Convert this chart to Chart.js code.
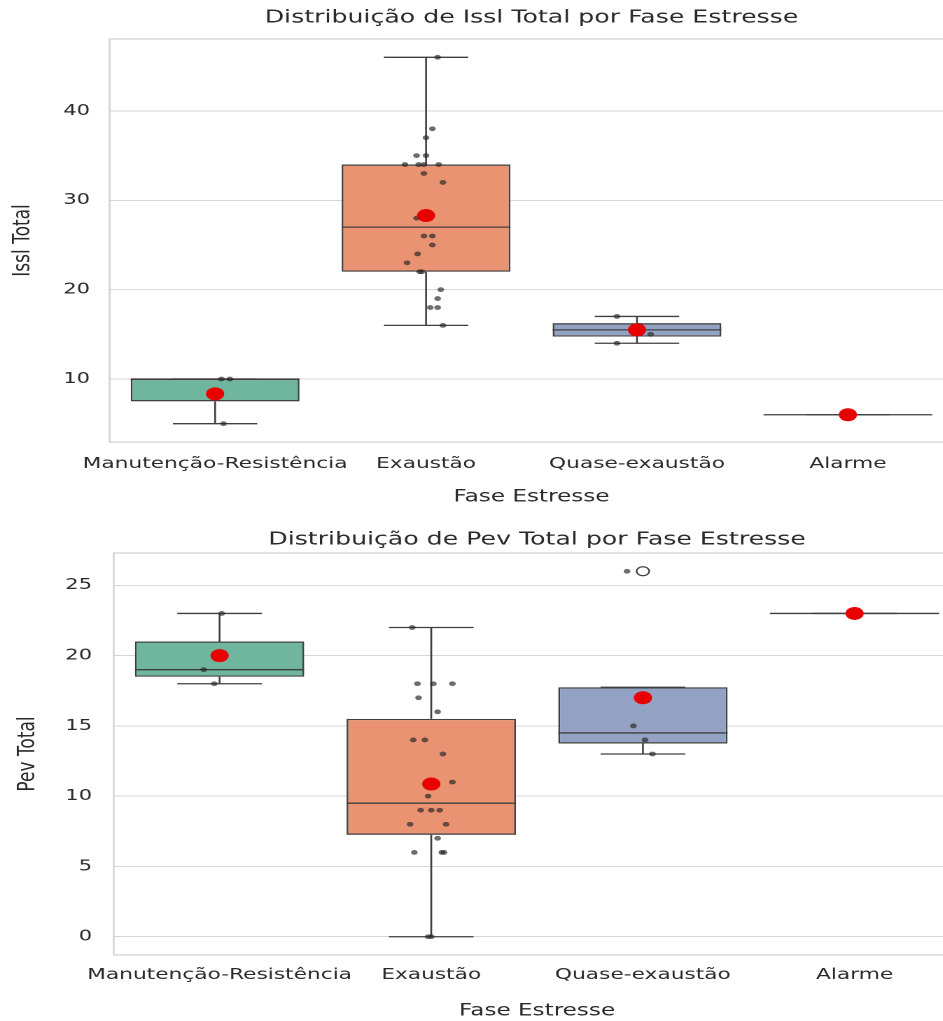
<!DOCTYPE html>
<html>
<head>
<meta charset="utf-8">
<script src="https://cdn.jsdelivr.net/npm/chart.js@4.4.1/dist/chart.umd.min.js"></script>
<style>
  html, body { margin: 0; padding: 0; background: #fff; overflow: hidden; width: 943px; height: 1021px; }
  #stage { position: relative; width: 943px; height: 1021px; overflow: hidden; }
  .panel { position: absolute; left: 0; transform-origin: 0 0; transform: scaleX(1.4); }
  #p1 { top: 0; }
  #p2 { top: 520px; }
</style>
</head>
<body>
<div id="stage">
  <div class="panel" id="p1"><canvas id="c1" width="681" height="520"></canvas></div>
  <div class="panel" id="p2"><canvas id="c2" width="686" height="501"></canvas></div>
</div>
<script>
// Categories (stress phases)
const fases = ['Manutenção-Resistência', 'Exaustão', 'Quase-exaustão', 'Alarme'];

// Issl Total per phase
const isslManutencao = [5, 10, 10];
const isslExaustao = [46, 38, 37, 35, 35, 34, 34, 34, 34, 33, 32, 28, 26, 26, 25, 24, 23, 22, 22, 20, 19, 18, 18, 16];
const isslQuase = [17, 16, 15, 14];
const isslAlarme = [6];

// Horizontal strip jitter (category units) for each Issl value
const isslManutencaoJitter = [0.04, 0.03, 0.07];
const isslExaustaoJitter = [0.055, 0.03, 0.0, -0.045, 0.0, -0.10, -0.035, -0.01, 0.06, -0.01, 0.08, -0.045, -0.01, 0.03, 0.03, -0.04, -0.09, -0.03, -0.02, 0.07, 0.055, 0.02, 0.055, 0.08];
const isslQuaseJitter = [-0.095, 0.01, 0.065, -0.095];
const isslAlarmeJitter = [0];

// Pev Total per phase
const pevManutencao = [23, 19, 18];
const pevExaustao = [22, 18, 18, 18, 17, 16, 14, 14, 13, 11, 10, 9, 9, 9, 8, 8, 7, 6, 6, 6, 0, 0];
const pevQuase = [26, 15, 14, 13];
const pevAlarme = [23];

// Horizontal strip jitter (category units) for each Pev value
const pevManutencaoJitter = [0.01, -0.075, -0.025];
const pevExaustaoJitter = [-0.09, -0.065, 0.01, 0.10, -0.06, 0.03, -0.085, -0.03, 0.055, 0.10, -0.015, -0.05, 0.0, 0.04, -0.10, 0.07, 0.03, -0.08, 0.05, 0.06, -0.015, 0.0];
const pevQuaseJitter = [-0.075, -0.045, 0.01, 0.045];
const pevAlarmeJitter = [0];

// Tick labels
const isslTicks = [10, 20, 30, 40];
const pevTicks = [0, 5, 10, 15, 20, 25];

// Styling
const boxColors = ['#70b69f', '#e99373', '#93a2c3', '#93a2c3'];
const lineColor = '#3f3f3f';
const textColor = '#2a2a2a';
const gridColor = '#d6d6d6';
const FONT = "'DejaVu Sans', sans-serif";

function quantile(sorted, p) {
  const pos = (sorted.length - 1) * p;
  const lo = Math.floor(pos), hi = Math.ceil(pos);
  return sorted[lo] + (sorted[hi] - sorted[lo]) * (pos - lo);
}

// Box-plot statistics: quartiles, 1.5·IQR whiskers, outliers and mean
function boxStats(values) {
  const s = [...values].sort((a, b) => a - b);
  const q1 = quantile(s, 0.25), med = quantile(s, 0.5), q3 = quantile(s, 0.75);
  const iqr = q3 - q1;
  const loFence = q1 - 1.5 * iqr, hiFence = q3 + 1.5 * iqr;
  let wLo = Math.min(...s.filter(v => v >= loFence));
  let wHi = Math.max(...s.filter(v => v <= hiFence));
  if (wLo > q1) wLo = q1;
  if (wHi < q3) wHi = q3;
  const fliers = s.filter(v => v < loFence || v > hiFence);
  const mean = s.reduce((a, b) => a + b, 0) / s.length;
  return { q1, med, q3, wLo, wHi, fliers, mean };
}

// Light frame around the plotting area
const frame = {
  id: 'frame',
  beforeDatasetsDraw(chart) {
    const { ctx, chartArea: a } = chart;
    ctx.save();
    ctx.strokeStyle = '#d0d0d0';
    ctx.lineWidth = 1.2;
    ctx.strokeRect(a.left, a.top, a.right - a.left, a.bottom - a.top);
    ctx.restore();
  }
};

function buildChart(id, title, yTitle, groups, jitters, yTicks, geo) {
  const stats = groups.map(boxStats);
  const all = groups.flat();
  const dMin = Math.min(...all), dMax = Math.max(...all);
  const pad = (dMax - dMin) * 0.05;

  const boxes = stats.map((st, i) => ({ x: i, y: [st.q1, st.q3] }));
  const medians = [], whiskers = [], caps = [];
  stats.forEach((st, i) => {
    medians.push({ x: i - 0.4, y: st.med }, { x: i + 0.4, y: st.med }, { x: i, y: null });
    whiskers.push({ x: i, y: st.wLo }, { x: i, y: st.q1 }, { x: i, y: null },
                  { x: i, y: st.q3 }, { x: i, y: st.wHi }, { x: i, y: null });
    caps.push({ x: i - 0.2, y: st.wLo }, { x: i + 0.2, y: st.wLo }, { x: i, y: null },
              { x: i - 0.2, y: st.wHi }, { x: i + 0.2, y: st.wHi }, { x: i, y: null });
  });
  const strip = [];
  groups.forEach((g, i) => g.forEach((v, k) => strip.push({ x: i + jitters[i][k], y: v })));
  const fliers = [];
  stats.forEach((st, i) => st.fliers.forEach(v => fliers.push({ x: i, y: v })));
  const means = stats.map((st, i) => ({ x: i, y: st.mean }));

  const lineDs = (data) => ({
    type: 'line', data, borderColor: lineColor, borderWidth: 1.3,
    pointRadius: 0, spanGaps: false, fill: false, tension: 0, order: 2
  });

  return new Chart(document.getElementById(id), {
    type: 'bar',
    data: {
      datasets: [
        { type: 'scatter', data: means, pointRadius: 6.5, backgroundColor: '#e80000', borderWidth: 0, order: 0 },
        { type: 'scatter', data: strip, pointRadius: 2.4, backgroundColor: 'rgba(40,40,40,0.68)', borderWidth: 0, order: 1 },
        { type: 'scatter', data: fliers, pointRadius: 4.5, backgroundColor: 'rgba(255,255,255,0)', borderColor: lineColor, borderWidth: 1.2, order: 1 },
        lineDs(medians),
        lineDs(whiskers),
        lineDs(caps),
        { type: 'bar', data: boxes, backgroundColor: boxColors, borderColor: lineColor, borderWidth: 1.3,
          borderSkipped: false, barPercentage: 0.8, categoryPercentage: 1.0, order: 3 }
      ]
    },
    options: {
      responsive: false,
      animation: false,
      devicePixelRatio: 2,
      layout: { padding: 0, autoPadding: false },
      plugins: {
        legend: { display: false },
        tooltip: { enabled: false },
        title: {
          display: true, text: title, fullSize: false, color: textColor,
          font: { family: FONT, size: 18, weight: 'normal' },
          padding: { top: geo.titleTop, bottom: geo.titleBottom }
        }
      },
      scales: {
        x: {
          type: 'linear', min: -0.5, max: 3.5, offset: false,
          grid: { display: false, drawTicks: false },
          border: { display: false },
          afterBuildTicks: (s) => { s.ticks = fases.map((_, i) => ({ value: i })); },
          afterFit: (s) => { s.height = geo.xHeight; s.paddingLeft = 0; s.paddingRight = 0; },
          ticks: {
            autoSkip: false, maxRotation: 0, minRotation: 0, padding: geo.xTickPad,
            color: textColor, font: { family: FONT, size: 15.5 },
            callback: (v) => fases[v]
          },
          title: {
            display: true, text: 'Fase Estresse', color: textColor,
            font: { family: FONT, size: 16.5 }, padding: { top: 0, bottom: geo.xTitlePad }
          }
        },
        y: {
          type: 'linear', min: dMin - pad, max: dMax + pad,
          grid: { color: gridColor, lineWidth: 1, drawTicks: false },
          border: { display: false },
          afterBuildTicks: (s) => { s.ticks = yTicks.map(v => ({ value: v })); },
          afterFit: (s) => { s.width = geo.yWidth; s.paddingTop = 0; s.paddingBottom = 0; },
          ticks: { padding: geo.yTickPad, color: textColor, font: { family: FONT, size: 15 } },
          title: {
            display: true, text: yTitle, color: textColor,
            font: { family: FONT, size: 17 }, padding: { top: geo.yTitlePad, bottom: 0 }
          }
        }
      }
    },
    plugins: [frame]
  });
}

buildChart('c1', 'Distribuição de Issl Total por Fase Estresse', 'Issl Total',
  [isslManutencao, isslExaustao, isslQuase, isslAlarme],
  [isslManutencaoJitter, isslExaustaoJitter, isslQuaseJitter, isslAlarmeJitter],
  isslTicks,
  { titleTop: 7.2, titleBottom: 10.2, xHeight: 78, xTickPad: 12.7, xTitlePad: 13.1,
    yWidth: 78.3, yTickPad: 14, yTitlePad: 6.2 });

buildChart('c2', 'Distribuição de Pev Total por Fase Estresse', 'Pev Total',
  [pevManutencao, pevExaustao, pevQuase, pevAlarme],
  [pevManutencaoJitter, pevExaustaoJitter, pevQuaseJitter, pevAlarmeJitter],
  pevTicks,
  { titleTop: 9.2, titleBottom: 2.2, xHeight: 66, xTickPad: 10.7, xTitlePad: 0,
    yWidth: 81.25, yTickPad: 15.5, yTitlePad: 9.8 });
</script>
</body>
</html>
